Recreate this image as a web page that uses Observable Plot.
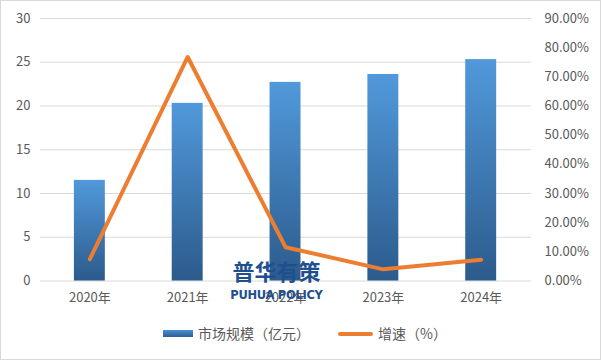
<!DOCTYPE html>
<html><head><meta charset="utf-8">
<script src="https://cdn.jsdelivr.net/npm/d3@7"></script>
<script src="https://cdn.jsdelivr.net/npm/@observablehq/plot@0.6"></script>
<style>
html,body{margin:0;padding:0;background:#fff;}
#wrap{position:relative;width:601px;height:360px;box-sizing:border-box;border:1px solid #d9d9d9;font-family:"Noto Sans CJK SC","Noto Sans",sans-serif;overflow:hidden;}
#chart{position:absolute;left:-1px;top:-1px;}
.legend{position:absolute;top:322px;left:0;width:601px;height:20px;font-size:14px;color:#595959;}
.legend .it{position:absolute;top:0;line-height:20px;white-space:nowrap;}
.wm{position:absolute;left:0;width:601px;text-align:center;color:#1f4f8f;font-weight:bold;font-family:"Noto Sans CJK SC",sans-serif;}
</style></head>
<body>
<div id="wrap">
<div id="chart"></div>
<div class="wm" style="top:253px;font-size:22px;letter-spacing:0px;left:-25px;">普华有策</div>
<div class="wm" style="top:287px;font-size:11.5px;left:-25px;font-family:'DejaVu Sans',sans-serif;letter-spacing:-0.3px;">PUHUA POLICY</div>
<div class="legend">
  <div class="it" style="left:162px;top:7px;width:30px;height:7px;background:linear-gradient(#4a8fd0,#2d5f95);"></div>
  <div class="it" style="left:197px;">市场规模（亿元）</div>
  <div class="it" style="left:337px;top:9px;width:35px;height:4px;border-radius:2px;background:#ed7d31;"></div>
  <div class="it" style="left:377px;">增速（%）</div>
</div>
</div>
<script>
const years = ["2020年","2021年","2022年","2023年","2024年"];
const marketSize = [11.5, 20.3, 22.7, 23.6, 25.3];
const growthPct = [7.5, 76.8, 11.6, 4.0, 7.3];
const leftTicks = [0,5,10,15,20,25,30];
const rightTicks = [0,10,20,30,40,50,60,70,80,90];

const data = years.map((y,i)=>({year:y, size:marketSize[i], growth:growthPct[i]}));
const ratio = 90/30;

const plot = Plot.plot({
  width: 601, height: 360,
  marginLeft: 40, marginRight: 69, marginTop: 18, marginBottom: 79,
  style: {fontFamily: '"Noto Sans CJK SC","Noto Sans",sans-serif', fontSize: "13px", color:"#595959", background:"transparent"},
  x: {domain: years, paddingInner: 0.68, paddingOuter: 0.34, label: null},
  y: {domain: [0,30], label: null},
  marks: [
    Plot.gridY(leftTicks, {stroke:"#d9d9d9", strokeOpacity:1, strokeWidth:1}),
    Plot.axisY(leftTicks, {anchor:"left", tickSize:0, tickPadding:10, label:null, fill:"#595959"}),
    Plot.axisY(rightTicks.map(d=>d/ratio), {anchor:"right", tickSize:0, tickPadding:13, label:null, fill:"#595959", textAnchor:"start",
      tickFormat: d => (d*ratio).toFixed(2)+"%"}),
    Plot.axisX({tickSize:0, tickPadding:12, label:null, fill:"#595959"}),
    Plot.barY(data, {x:"year", y:"size", fill:"url(#barGrad)"}),
    Plot.lineY(data, {x:"year", y: d => d.growth/ratio, stroke:"#ed7d31", strokeWidth:4, strokeLinejoin:"round", strokeLinecap:"round"})
  ]
});
const svg = d3.select(plot);
const defs = svg.insert("defs", ":first-child");
const g = defs.append("linearGradient").attr("id","barGrad").attr("x1",0).attr("y1",0).attr("x2",0).attr("y2",1);
g.append("stop").attr("offset","0%").attr("stop-color","#5199db");
g.append("stop").attr("offset","100%").attr("stop-color","#2c5b8c");
document.getElementById("chart").appendChild(plot);
</script>
</body></html>
